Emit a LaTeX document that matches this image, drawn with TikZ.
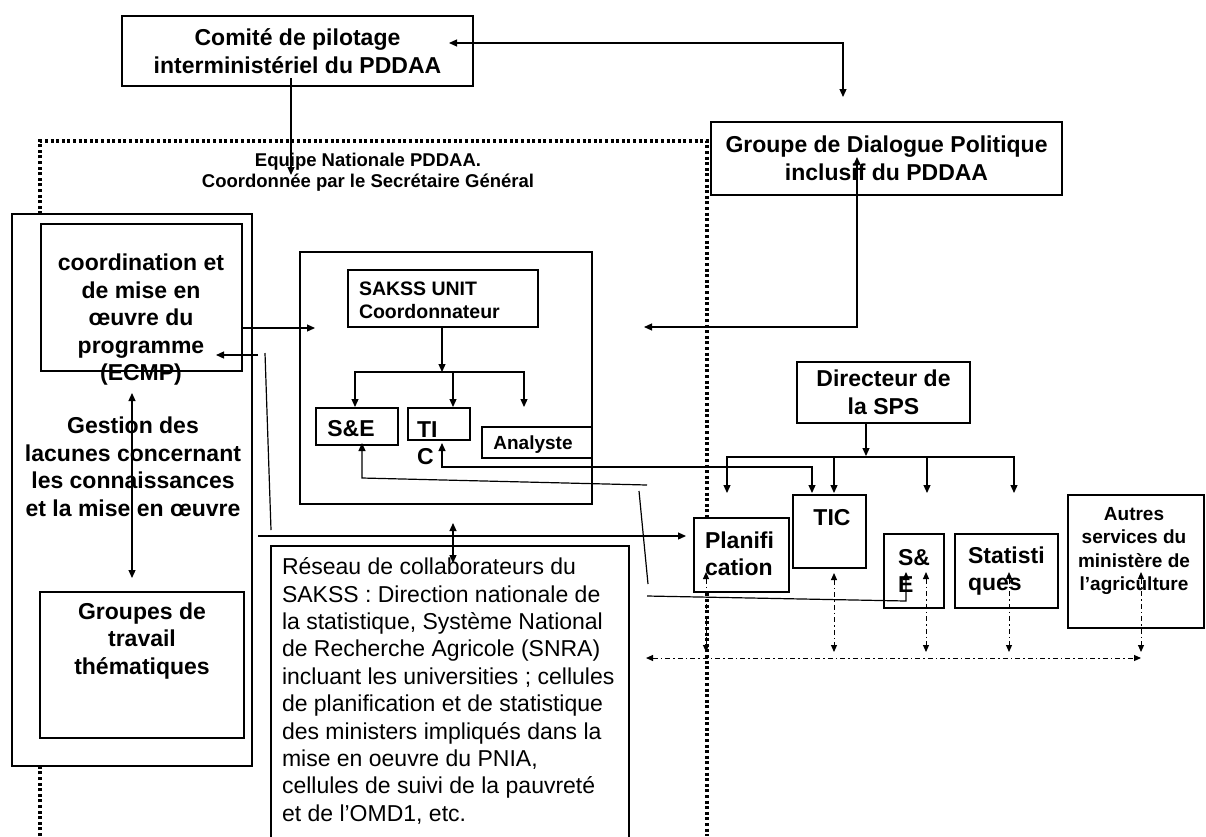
\documentclass[tikz,border=0pt]{standalone}
\usepackage{fontspec}
\setmainfont{Liberation Sans}
\usetikzlibrary{arrows.meta}
\tikzset{
  lbl/.style={inner sep=0pt, outer sep=0pt},
  bx/.style={draw, line width=1.2pt, fill=white, inner sep=0pt, outer sep=0pt},
  tbx/.style={bx, line width=2.4pt},
  bt/.style={lbl, font=\bfseries\fontsize{23}{27.5}\selectfont, align=center},
  btl/.style={bt, align=left},
  rt/.style={lbl, font=\fontsize{23}{27.4}\selectfont, align=left},
  st/.style={lbl, font=\bfseries\fontsize{19}{23.5}\selectfont, align=center},
  ln/.style={line width=1.2pt},
  tipe/.style={ln, -{Triangle[length=8pt,width=7pt]}},
  tipb/.style={ln, {Triangle[length=8pt,width=7pt]}-{Triangle[length=8pt,width=7pt]}},
  ddb/.style={line width=1pt, dash pattern=on 5pt off 3pt on 1.5pt off 3pt,
     {Triangle[length=7pt,width=6pt]}-{Triangle[length=7pt,width=6pt]}},
  dotfr/.style={line width=3.4pt, dash pattern=on 3pt off 2.6pt},
}
\begin{document}
\begin{tikzpicture}[x=1pt,y=-1pt]
\useasboundingbox (0,0) rectangle (1206,836);
\fill[white] (0,0) rectangle (1206,836);
% dotted frame of the national team
\coordinate (f1) at (40,836); \coordinate (f2) at (40,141);
\coordinate (f3) at (707,141); \coordinate (f4) at (707,836);
\draw[dotfr] (f1) -- (f2) -- (f3) -- (f4);

% top boxes
\node[tbx, bt, minimum width=351pt, minimum height=70pt] (comite) at (297.5,51) {Comité de pilotage\\interministériel du PDDAA};
\node[tbx, bt, minimum width=351pt, minimum height=73pt] (groupe) at (886.5,158.5) {Groupe de Dialogue Politique\\inclusif du PDDAA};
\node[bt, font=\bfseries\fontsize{18.5}{21}\selectfont] (equipe) at (368,172) {Equipe Nationale PDDAA.\\Coordonnée par le Secrétaire Général};

% left column
\node[bx, minimum width=240pt, minimum height=552pt] (gauche) at (132,490) {};
\node[bx, minimum width=201pt, minimum height=147pt] (ecmp) at (141.5,297.5) {};
\node[bt] (ecmpt) at (141,320) {coordination et\\de mise en\\œuvre du\\programme\\(ECMP)};
\node[bt] (gestion) at (133,467) {Gestion des\\lacunes concernant\\les connaissances\\et la mise en œuvre};
\node[bx, minimum width=204pt, minimum height=146pt] (gtt) at (142,665) {};
\node[bt] (gttt) at (142,641) {Groupes de\\travail\\thématiques};

% SAKSS
\node[bx, minimum width=292pt, minimum height=252pt] (sakss) at (446,378) {};
\node[bx, minimum width=190pt, minimum height=57pt] (unit) at (443,298.5) {};
\node[lbl, font=\bfseries\fontsize{19.5}{22.7}\selectfont, align=left, anchor=west] (unitt) at (359,300) {SAKSS UNIT\\Coordonnateur};
\node[bx, minimum width=82pt, minimum height=37pt] (se1) at (357,426.5) {};
\node[bt] (se1t) at (351,429) {S\&E};
\node[bx, minimum width=62pt, minimum height=32pt] (ti) at (439,424) {};
\node[btl, anchor=west] (tit) at (417,443) {TI\\C};
\node[bx, minimum width=110pt, minimum height=31pt] (analyste) at (537,442.5) {};
\node[lbl, font=\bfseries\fontsize{19}{22}\selectfont] (analystet) at (533,445) {Analyste};

% network
\node[bx, minimum width=358pt, minimum height=320pt, anchor=north west] (reseau) at (271,546) {};
\node[rt, anchor=west] (reseaut) at (282,691) {Réseau de collaborateurs du\\SAKSS : Direction nationale de\\la statistique, Système National\\de Recherche Agricole (SNRA)\\incluant les universities ; cellules\\de planification et de statistique\\des ministers impliqués dans la\\mise en oeuvre du PNIA,\\cellules de suivi de la pauvreté\\et de l’OMD1, etc.};

% SPS
\node[bx, bt, minimum width=173pt, minimum height=61pt] (dir) at (883.5,392.5) {Directeur de\\la SPS};
\node[bx, minimum width=95pt, minimum height=74pt] (planif) at (741.5,555) {};
\node[btl, anchor=west] (planift) at (705,554) {Planifi\\cation};
\node[bx, minimum width=73pt, minimum height=73pt] (tic) at (829.5,531.5) {};
\node[bt] (tict) at (832,518) {TIC};
\node[bx, minimum width=60pt, minimum height=74pt] (se2) at (914,571) {};
\node[btl, anchor=west] (se2t) at (898,571) {S\&\\E};
\node[bx, minimum width=103pt, minimum height=74pt] (stat) at (1006.5,571) {};
\node[btl, anchor=west] (statt) at (968,571) {Statisti\\ques};
\node[bx, minimum width=136pt, minimum height=133pt] (autres) at (1136,561.5) {};
\node[st] (autrest) at (1134,551) {Autres\\services du\\ministère de\\l’agriculture};

% connector points
\coordinate (a1) at (449,43); \coordinate (a2) at (843,43); \coordinate (a3) at (843,97);
\coordinate (b1) at (291,78); \coordinate (b2) at (291,175);
\coordinate (g1) at (857,157); \coordinate (g2) at (857,327); \coordinate (g3) at (644,327);
\coordinate (e1) at (243,328); \coordinate (e2) at (315,328);
\coordinate (u1) at (442,327); \coordinate (u2) at (442,372);
\coordinate (u3) at (355,407); \coordinate (u4) at (355,372); \coordinate (u5) at (524,372); \coordinate (u6) at (524,407);
\coordinate (u7) at (453,372); \coordinate (u8) at (453,407);
\coordinate (p1) at (258,355); \coordinate (p2) at (216,355);
\coordinate (p3) at (265,353); \coordinate (p4) at (271,530);
\coordinate (p5) at (258,536); \coordinate (p6) at (686,536);
\coordinate (r1) at (453,523); \coordinate (r2) at (453,563);
\coordinate (l1) at (132,393); \coordinate (l2) at (132,578);
\coordinate (t1) at (442,443); \coordinate (t2) at (442,467); \coordinate (t3) at (812,467); \coordinate (t4) at (812,493);
\coordinate (s1) at (647,485); \coordinate (s2) at (362,478); \coordinate (s3) at (362,443);
\coordinate (s4) at (639,491); \coordinate (s5) at (648,584);
\coordinate (s6) at (647,596); \coordinate (s7) at (906,601); \coordinate (s8) at (906,572);
\coordinate (d1) at (866,423); \coordinate (d2) at (866,456);
\coordinate (d3) at (727,493); \coordinate (d4) at (727,457); \coordinate (d5) at (1014,457); \coordinate (d6) at (1014,493);
\coordinate (d7) at (834,457); \coordinate (d8) at (834,493);
\coordinate (d9) at (927,457); \coordinate (d10) at (927,493);

% connectors
\draw[tipb] (a1) -- (a2) -- (a3);
\draw[tipe] (b1) -- (b2);
\draw[tipb] (g1) -- (g2) -- (g3);
\draw[tipe] (e1) -- (e2);
\draw[tipe] (u1) -- (u2);
\draw[tipb] (u3) -- (u4) -- (u5) -- (u6);
\draw[tipe] (u7) -- (u8);
\draw[tipe] (p1) -- (p2);
\draw[ln] (p3) -- (p4);
\draw[tipe] (p5) -- (p6);
\draw[tipb] (r1) -- (r2);
\draw[tipb] (l1) -- (l2);
\draw[tipb] (t1) -- (t2) -- (t3) -- (t4);
\draw[tipe] (s1) -- (s2) -- (s3);
\draw[ln] (s4) -- (s5);
\draw[tipe] (s6) -- (s7) -- (s8);
\draw[tipe] (d1) -- (d2);
\draw[tipb] (d3) -- (d4) -- (d5) -- (d6);
\draw[tipe] (d7) -- (d8);
\draw[tipe] (d9) -- (d10);

% dash-dot links
\coordinate (v1a) at (706,572); \coordinate (v1b) at (706,652);
\coordinate (v2a) at (834,573); \coordinate (v2b) at (834,652);
\coordinate (v3a) at (926,572); \coordinate (v3b) at (926,652);
\coordinate (v4a) at (1009,572); \coordinate (v4b) at (1009,652);
\coordinate (v5a) at (1141,572); \coordinate (v5b) at (1141,652);
\coordinate (h1) at (646,658); \coordinate (h2) at (1141,658);
\draw[ddb] (v1a) -- (v1b);
\draw[ddb] (v2a) -- (v2b);
\draw[ddb] (v3a) -- (v3b);
\draw[ddb] (v4a) -- (v4b);
\draw[ddb] (v5a) -- (v5b);
\draw[ddb] (h1) -- (h2);
\end{tikzpicture}
\end{document}
